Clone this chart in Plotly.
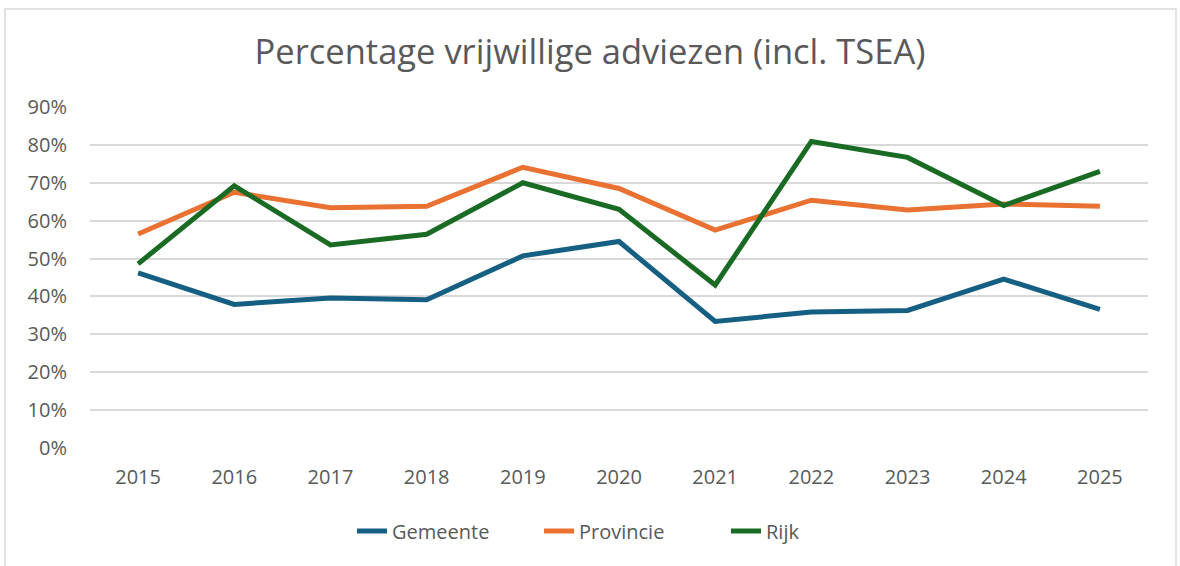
import plotly.graph_objects as go

years = ["2015", "2016", "2017", "2018", "2019", "2020", "2021", "2022", "2023", "2024", "2025"]
gemeente = [0.462, 0.379, 0.396, 0.391, 0.507, 0.545, 0.334, 0.359, 0.363, 0.446, 0.366]
provincie = [0.565, 0.675, 0.634, 0.638, 0.741, 0.685, 0.575, 0.654, 0.628, 0.644, 0.638]
rijk = [0.486, 0.692, 0.536, 0.564, 0.700, 0.630, 0.430, 0.809, 0.767, 0.640, 0.730]
y_ticks = [0, 0.1, 0.2, 0.3, 0.4, 0.5, 0.6, 0.7, 0.8, 0.9]

series = [("Gemeente", gemeente, "#156082"), ("Provincie", provincie, "#E97132"), ("Rijk", rijk, "#196B24")]

W, H = 1180, 566
L, R, T, B = 90, 32, 107, 118

fig = go.Figure()
for name, vals, col in series:
    fig.add_trace(go.Scatter(x=years, y=vals, name=name, mode="lines",
                             line=dict(color=col, width=5)))

pw = W - L - R
ph = H - T - B
fig.add_shape(type="rect", xref="paper", yref="paper",
              x0=(5 - L) / pw, x1=(1176 - L) / pw,
              y0=-(580 - (H - B)) / ph,
              y1=((H - B) - 9) / ph,
              line=dict(color="#D9D9D9", width=1.5), fillcolor="rgba(0,0,0,0)", layer="below")

font_fam = "Open Sans, Liberation Sans, sans-serif"
fig.update_layout(
    width=W, height=H,
    margin=dict(l=L, r=R, t=T, b=B),
    paper_bgcolor="white", plot_bgcolor="white",
    font=dict(family=font_fam, color="#595959", size=20),
    title=dict(text="Percentage vrijwillige adviezen (incl. TSEA)", x=0.5, xref="container",
               y=1 - 52 / H, yanchor="middle", xanchor="center",
               font=dict(size=34.5, color="#595959", family=font_fam)),
    xaxis=dict(type="category", range=[-0.5, 10.5], showgrid=False, zeroline=False,
               showline=False, ticks="", tickfont=dict(size=20, color="#595959"),
               ticklabelstandoff=15),
    yaxis=dict(range=[0, 0.9], tickvals=y_ticks, tickformat=".0%", showgrid=True,
               gridcolor="#D9D9D9", gridwidth=1.5, zeroline=False, showline=False,
               tickfont=dict(size=20, color="#595959"), ticklabelstandoff=22),
    legend=dict(orientation="h", x=(352 - L) / pw, xanchor="left", y=-(531 - (H - B)) / ph,
                yanchor="middle", font=dict(size=20, color="#595959"),
                entrywidth=142, entrywidthmode="pixels", tracegroupgap=0),
    showlegend=True,
)

fig.write_html("out.html", config={"displayModeBar": False},
               post_script="document.body.style.margin='0';")
